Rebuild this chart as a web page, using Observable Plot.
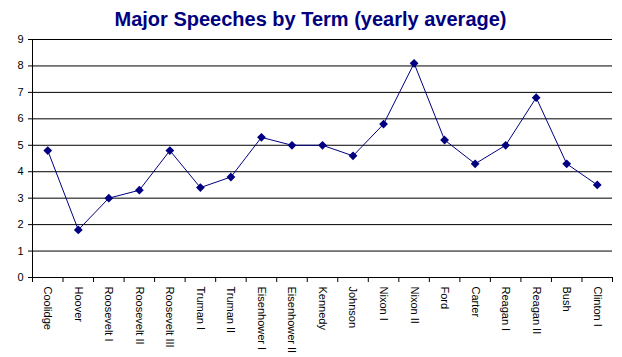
<!DOCTYPE html>
<html><head><meta charset="utf-8">
<script src="https://cdn.jsdelivr.net/npm/d3@7"></script>
<script src="https://cdn.jsdelivr.net/npm/@observablehq/plot@0.6"></script>
<style>body{margin:0;background:#fff;font-family:Arial,"Liberation Sans",sans-serif}</style>
</head><body><div id="chart"></div>
<script>
const title = "Major Speeches by Term (yearly average)";
const terms = ["Coolidge","Hoover","Roosevelt I","Roosevelt II","Roosevelt III","Truman I","Truman II","Eisenhower I","Eisenhower II","Kennedy","Johnson","Nixon I","Nixon II","Ford","Carter","Reagan I","Reagan II","Bush","Clinton I"];
const speeches = [4.8,1.8,3.0,3.3,4.8,3.4,3.8,5.3,5.0,5.0,4.6,5.8,8.1,5.2,4.3,5.0,6.8,4.3,3.5];
const yTicks = [0,1,2,3,4,5,6,7,8,9];

const data = terms.map((t,i)=>({i, term:t, value:speeches[i]}));
const boundaries = d3.range(terms.length+1).map(i=>i-0.5);
const navy = "#000080";

const chart = Plot.plot({
  width: 622, height: 357,
  marginLeft: 32, marginRight: 10, marginTop: 39, marginBottom: 80,
  style: {fontFamily: "Arial, 'Liberation Sans', sans-serif", fontSize: "11px", color: "#000", background: "#fff"},
  x: {type: "linear", domain: [-0.5, terms.length-0.5]},
  y: {domain: [0, 9]},
  marks: [
    Plot.gridY(yTicks, {stroke: "#000", strokeOpacity: 1, strokeWidth: 1}),
    Plot.axisY(yTicks, {tickSize: 4, tickPadding: 5, label: null, fontSize: 11, stroke: "#000"}),
    Plot.axisX(boundaries, {tickSize: 5, text: null, label: null}),
    Plot.axisX(d3.range(terms.length), {tickSize: 0, tickPadding: 9, tickRotate: 90, tickFormat: i => terms[i], label: null, fontSize: 11}),
    Plot.ruleX([-0.5], {stroke: "#000"}),
    Plot.ruleY([0], {stroke: "#000"}),
    Plot.line(data, {x: "i", y: "value", stroke: navy, strokeWidth: 1}),
    Plot.dot(data, {x: "i", y: "value", symbol: "diamond2", r: 3, fill: navy, stroke: navy}),
    Plot.text([title], {frameAnchor: "top", dy: -28, fontSize: 20, fontWeight: "bold", fill: navy, dx: -12})
  ]
});
document.getElementById("chart").appendChild(chart);
</script>
</body></html>
